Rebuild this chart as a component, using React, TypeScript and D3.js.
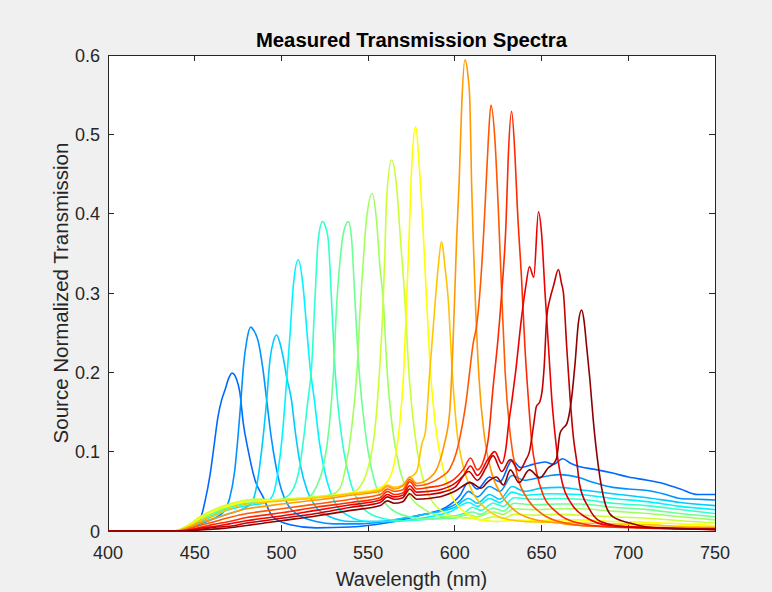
import React from 'react';
import * as d3 from 'd3';

type Pt = [number, number];

// ---- data: [wavelength nm, transmission] ----
const spectrum01: Pt[] = [[400,0],[440,0],[445,0.002],[449,0.006],[453,0.014],[456,0.038],[459,0.073],[461,0.105],[463.4,0.144],[465.5,0.165],[467.5,0.178],[469.5,0.192],[471.5,0.199],[474,0.192],[476,0.175],[478,0.136],[480.8,0.102],[484.8,0.064],[489.4,0.043],[495,0.018],[505,0.008],[520,0.004],[540,0.005],[560,0.01],[580,0.02],[595,0.03],[603,0.045],[608,0.062],[613,0.053],[620,0.068],[626,0.062],[633,0.089],[638,0.08],[645,0.084],[652,0.087],[657,0.084],[662,0.091],[667,0.085],[672,0.081],[680,0.078],[691,0.073],[700,0.068],[711,0.064],[720,0.06],[730,0.053],[740,0.046],[750,0.046]];
const spectrum02: Pt[] = [[400,0],[440,0],[446,0.003],[452,0.008],[458,0.013],[463,0.018],[467,0.025],[470,0.04],[473,0.075],[475,0.12],[476.5,0.16],[478,0.205],[480,0.24],[482.3,0.257],[484,0.253],[486.5,0.24],[489.4,0.203],[491.5,0.165],[494,0.12],[497,0.08],[500,0.052],[504,0.032],[510,0.02],[520,0.012],[530,0.009],[545,0.009],[560,0.012],[580,0.02],[595,0.028],[603,0.038],[608,0.05],[613,0.043],[620,0.056],[626,0.05],[633,0.07],[640,0.064],[650,0.068],[660,0.071],[672,0.067],[680,0.061],[691,0.055],[700,0.053],[711,0.051],[720,0.047],[730,0.041],[740,0.04],[750,0.039]];
const spectrum03: Pt[] = [[400,0],[440,0],[447,0.004],[454,0.01],[462,0.016],[470,0.022],[478,0.028],[483,0.036],[486,0.06],[488.5,0.1],[491.5,0.165],[493.4,0.216],[495.5,0.24],[497.2,0.247],[499,0.238],[501,0.219],[503,0.194],[505.8,0.165],[508,0.125],[511,0.082],[515,0.05],[520,0.03],[528,0.018],[540,0.012],[555,0.012],[570,0.016],[585,0.022],[600,0.03],[608,0.041],[613,0.035],[620,0.046],[626,0.04],[633,0.056],[640,0.05],[650,0.054],[660,0.055],[672,0.052],[691,0.047],[711,0.042],[730,0.036],[750,0.032]];
const spectrum04: Pt[] = [[400,0],[440,0],[447,0.005],[454,0.012],[462,0.02],[470,0.027],[480,0.032],[490,0.035],[495,0.045],[498,0.075],[500.5,0.12],[503,0.19],[505,0.249],[506.8,0.308],[509.7,0.342],[512.5,0.308],[514.5,0.257],[516.5,0.207],[519,0.165],[522,0.11],[526,0.065],[531,0.035],[538,0.02],[550,0.012],[565,0.012],[580,0.016],[598,0.025],[608,0.036],[613,0.031],[620,0.041],[626,0.036],[633,0.049],[640,0.045],[655,0.047],[672,0.046],[691,0.041],[711,0.037],[730,0.031],[750,0.027]];
const spectrum05: Pt[] = [[400,0],[440,0],[447,0.006],[454,0.014],[462,0.022],[470,0.03],[480,0.035],[490,0.037],[500,0.04],[506,0.05],[510,0.075],[513,0.12],[515,0.16],[517.4,0.207],[519.3,0.291],[521.2,0.367],[523.7,0.39],[525.5,0.383],[527,0.367],[528.9,0.291],[530.8,0.207],[533,0.15],[536,0.1],[540,0.06],[546,0.032],[555,0.018],[570,0.013],[590,0.016],[605,0.022],[610,0.03],[615,0.026],[622,0.035],[628,0.031],[634,0.042],[645,0.04],[660,0.041],[672,0.04],[691,0.035],[711,0.032],[730,0.027],[750,0.022]];
const spectrum06: Pt[] = [[400,0],[438,0],[446,0.006],[453,0.015],[460,0.022],[470,0.031],[480,0.037],[488,0.039],[495,0.038],[505,0.039],[515,0.042],[520,0.055],[524,0.08],[527.5,0.13],[530,0.2],[532,0.291],[533.8,0.341],[535.7,0.375],[538.6,0.39],[540.5,0.367],[542.4,0.291],[544.5,0.21],[547,0.15],[550,0.1],[554,0.06],[560,0.035],[570,0.02],[585,0.015],[600,0.016],[610,0.024],[615,0.021],[622,0.029],[628,0.025],[634,0.035],[645,0.033],[660,0.034],[672,0.034],[691,0.03],[711,0.027],[730,0.022],[750,0.018]];
const spectrum07: Pt[] = [[400,0],[438,0],[446,0.007],[453,0.017],[460,0.025],[470,0.033],[480,0.039],[488,0.04],[495,0.039],[505,0.04],[520,0.043],[530,0.047],[534,0.055],[537,0.08],[540.5,0.13],[543.5,0.2],[545.7,0.291],[547.2,0.341],[549,0.392],[552.4,0.4255],[554.8,0.392],[556.8,0.333],[558.7,0.291],[561,0.2],[564,0.13],[568,0.08],[574,0.045],[582,0.028],[595,0.018],[608,0.02],[613,0.018],[622,0.024],[628,0.021],[634,0.028],[645,0.027],[660,0.028],[672,0.028],[691,0.025],[711,0.022],[730,0.018],[750,0.014]];
const spectrum08: Pt[] = [[400,0],[438,0],[446,0.007],[453,0.018],[460,0.026],[470,0.034],[478,0.038],[485,0.04],[492,0.039],[500,0.04],[520,0.043],[540,0.048],[546,0.058],[550,0.08],[554,0.13],[556.5,0.2],[558.7,0.291],[559.7,0.354],[560.6,0.417],[563.5,0.4677],[566.4,0.434],[568.4,0.375],[571.2,0.291],[573.5,0.2],[576.5,0.13],[580,0.08],[585,0.045],[592,0.026],[602,0.017],[610,0.016],[615,0.014],[622,0.018],[628,0.016],[634,0.021],[645,0.02],[660,0.021],[672,0.02],[691,0.018],[711,0.016],[730,0.013],[750,0.01]];
const spectrum09: Pt[] = [[400,0],[438,0],[446,0.006],[453,0.016],[460,0.024],[470,0.032],[480,0.037],[490,0.038],[500,0.039],[520,0.042],[540,0.048],[555,0.053],[561,0.062],[565,0.085],[568,0.13],[570.5,0.2],[572.2,0.291],[573.7,0.375],[575.1,0.459],[577.4,0.5097],[579.5,0.459],[581.8,0.375],[583.7,0.291],[586,0.2],[589,0.13],[593,0.08],[598,0.045],[605,0.025],[615,0.014],[625,0.012],[634,0.014],[645,0.013],[660,0.014],[672,0.014],[691,0.012],[711,0.011],[730,0.009],[750,0.007]];
const spectrum10: Pt[] = [[400,0],[438,0],[446,0.005],[453,0.013],[460,0.019],[470,0.028],[480,0.034],[490,0.036],[500,0.038],[520,0.042],[540,0.047],[557,0.052],[561,0.058],[565,0.055],[570,0.058],[574,0.067],[578,0.075],[581,0.11],[583,0.125],[585.5,0.2],[588,0.27],[590.4,0.333],[592.3,0.3647],[594.3,0.333],[596.2,0.291],[598.5,0.2],[601,0.13],[605,0.08],[610,0.05],[618,0.028],[628,0.016],[640,0.012],[655,0.011],[672,0.01],[691,0.009],[711,0.008],[730,0.006],[750,0.005]];
const spectrum11: Pt[] = [[400,0],[438,0],[446,0.004],[453,0.01],[460,0.015],[470,0.022],[480,0.028],[490,0.031],[500,0.034],[520,0.039],[540,0.045],[557,0.05],[561,0.056],[565,0.053],[570,0.057],[574,0.068],[578,0.06],[585,0.066],[590,0.08],[594,0.11],[597,0.15],[599,0.24],[601,0.367],[602.5,0.442],[604,0.539],[605.8,0.594],[607.5,0.575],[608.7,0.539],[609.6,0.442],[610.6,0.367],[612,0.28],[614,0.19],[617,0.12],[621,0.075],[627,0.045],[635,0.025],[645,0.015],[660,0.01],[672,0.007],[691,0.006],[711,0.005],[750,0.004]];
const spectrum12: Pt[] = [[400,0],[440,0],[447,0.003],[453,0.007],[460,0.011],[470,0.017],[480,0.022],[490,0.025],[500,0.028],[520,0.034],[540,0.04],[557,0.046],[561,0.053],[565,0.05],[570,0.052],[574,0.065],[578,0.057],[585,0.06],[592,0.068],[597,0.078],[601,0.1],[604,0.13],[606.6,0.165],[608.5,0.2],[610.6,0.237],[612.5,0.258],[614.4,0.3],[616.4,0.367],[617.4,0.409],[619.3,0.493],[620.8,0.537],[623.1,0.493],[625,0.409],[627,0.3],[629,0.2],[632,0.12],[636,0.07],[642,0.04],[650,0.022],[660,0.012],[680,0.006],[750,0.003]];
const spectrum13: Pt[] = [[400,0],[441,0],[448,0.002],[454,0.005],[460,0.008],[470,0.012],[480,0.017],[490,0.02],[500,0.023],[520,0.03],[540,0.036],[557,0.042],[561,0.05],[565,0.046],[570,0.048],[574,0.062],[578,0.053],[585,0.055],[593,0.058],[600,0.066],[605,0.078],[609,0.092],[613,0.077],[617,0.092],[619.5,0.12],[622,0.18],[625,0.245],[627,0.3],[629.5,0.388],[630.8,0.472],[632.7,0.529],[634.7,0.472],[636,0.409],[638.5,0.316],[640.4,0.232],[642.3,0.169],[644.2,0.115],[647,0.075],[651,0.045],[658,0.025],[668,0.012],[690,0.005],[750,0.002]];
const spectrum14: Pt[] = [[400,0],[442,0],[449,0.002],[455,0.004],[462,0.006],[470,0.009],[480,0.013],[490,0.016],[500,0.019],[520,0.026],[540,0.033],[557,0.039],[561,0.046],[565,0.043],[570,0.045],[574,0.057],[578,0.049],[585,0.05],[593,0.053],[600,0.06],[605,0.07],[609,0.082],[613,0.07],[619,0.09],[623,0.1],[627,0.085],[629.5,0.105],[631,0.135],[632.7,0.161],[635,0.2],[638.5,0.27],[641,0.31],[643,0.333],[645.5,0.32],[648.2,0.4025],[650,0.375],[652,0.3],[654,0.232],[655.8,0.169],[657.7,0.123],[659.5,0.089],[662,0.06],[667,0.035],[675,0.018],[690,0.007],[750,0.002]];
const spectrum15: Pt[] = [[400,0],[443,0],[450,0.001],[456,0.003],[463,0.005],[470,0.006],[480,0.01],[490,0.013],[500,0.016],[520,0.022],[540,0.03],[557,0.036],[561,0.043],[565,0.04],[570,0.042],[574,0.053],[578,0.045],[585,0.046],[593,0.049],[600,0.055],[608,0.075],[613,0.064],[618,0.08],[622,0.095],[627,0.075],[632,0.09],[637,0.076],[641,0.09],[643,0.1],[645.5,0.135],[647,0.157],[649,0.163],[650.5,0.18],[651.5,0.207],[653,0.27],[654.9,0.293],[657,0.31],[659.7,0.3297],[661.5,0.312],[662.6,0.3],[664.5,0.232],[666.4,0.169],[668.3,0.119],[670.2,0.089],[672,0.058],[677,0.03],[684,0.012],[700,0.005],[750,0.002]];
const spectrum16: Pt[] = [[400,0],[444,0],[451,0.001],[458,0.002],[465,0.003],[470,0.004],[480,0.007],[490,0.01],[500,0.013],[520,0.019],[540,0.026],[557,0.032],[561,0.038],[565,0.035],[570,0.037],[574,0.047],[578,0.04],[585,0.041],[593,0.044],[600,0.05],[609,0.061],[615,0.054],[619,0.062],[624,0.068],[628,0.058],[632,0.077],[637,0.061],[643,0.077],[649,0.067],[654,0.08],[657,0.085],[658.7,0.092],[660.6,0.123],[662.5,0.13],[664.5,0.135],[667.4,0.169],[669.3,0.211],[671.2,0.262],[673.1,0.2786],[674.5,0.265],[676,0.232],[677.9,0.19],[679.8,0.14],[682.7,0.082],[686.6,0.035],[691,0.018],[701,0.01],[711,0.005],[730,0.003],[750,0.002]];

const spectra: Pt[][] = [spectrum01, spectrum02, spectrum03, spectrum04, spectrum05, spectrum06, spectrum07, spectrum08, spectrum09, spectrum10, spectrum11, spectrum12, spectrum13, spectrum14, spectrum15, spectrum16];

// jet-like colours, one per spectrum
const curveColors = ['#0069ff', '#0092ff', '#00cbff', '#00f4ff', '#32ffcd', '#6bff94', '#a0ff5f', '#caff35', '#ffff00', '#ffc500', '#ff9a00', '#ff5800', '#ff2a00', '#ee0000', '#c20000', '#8f0000'];

const xTicks = [400, 450, 500, 550, 600, 650, 700, 750];
const yTicks = [0, 0.1, 0.2, 0.3, 0.4, 0.5, 0.6];
const yTickLabels = ['0', '0.1', '0.2', '0.3', '0.4', '0.5', '0.6'];

const titleText = 'Measured Transmission Spectra';
const xLabelText = 'Wavelength (nm)';
const yLabelText = 'Source Normalized Transmission';

const W = 772;
const H = 592;
const left = 108;
const right = 715;
const top = 55;
const bottom = 531;
const FONT = '"Liberation Sans", Arial, Helvetica, sans-serif';
const AX = '#262626';

export default function App() {
  const x = d3.scaleLinear().domain([400, 750]).range([left, right]);
  const y = d3.scaleLinear().domain([0, 0.6]).range([bottom, top]);
  const line = d3
    .line<Pt>()
    .x((d) => x(d[0]))
    .y((d) => y(d[1]))
    .curve(d3.curveMonotoneX);
  const tick = 6;

  return (
    <svg
      width={W}
      height={H}
      viewBox={`0 0 ${W} ${H}`}
      style={{ position: 'absolute', left: 0, top: 0, display: 'block' }}
    >
      <rect x={0} y={0} width={W} height={H} fill="#f0f0f0" />
      <rect x={left} y={top} width={right - left} height={bottom - top} fill="#ffffff" />
      <defs>
        <clipPath id="plotclip">
          <rect x={left} y={top - 1} width={right - left} height={bottom - top + 2} />
        </clipPath>
      </defs>

      {/* axes box and ticks */}
      <g stroke={AX} strokeWidth={1} fill="none" shapeRendering="crispEdges">
        <rect x={left} y={top} width={right - left} height={bottom - top} />
        {xTicks.map((t) => (
          <g key={'xt' + t}>
            <line x1={x(t)} x2={x(t)} y1={bottom} y2={bottom - tick} />
            <line x1={x(t)} x2={x(t)} y1={top} y2={top + tick} />
          </g>
        ))}
        {yTicks.map((t) => (
          <g key={'yt' + t}>
            <line x1={left} x2={left + tick} y1={y(t)} y2={y(t)} />
            <line x1={right} x2={right - tick} y1={y(t)} y2={y(t)} />
          </g>
        ))}
      </g>

      {/* spectra */}
      <g clipPath="url(#plotclip)" fill="none" strokeWidth={1.6} strokeLinejoin="round">
        {spectra.map((s, i) => (
          <path key={'s' + i} d={line(s) || ''} stroke={curveColors[i]} />
        ))}
      </g>

      {/* tick labels */}
      <g fontFamily={FONT} fontSize={18} fill={AX}>
        {xTicks.map((t) => (
          <text key={'xl' + t} x={x(t)} y={559} textAnchor="middle">
            {t}
          </text>
        ))}
        {yTicks.map((t, i) => (
          <text key={'yl' + t} x={left - 8} y={y(t) + 6.5} textAnchor="end">
            {yTickLabels[i]}
          </text>
        ))}
      </g>

      {/* labels */}
      <text x={(left + right) / 2} y={586} textAnchor="middle" fontFamily={FONT} fontSize={20} fill={AX}>
        {xLabelText}
      </text>
      <text
        transform={`translate(68, ${(top + bottom) / 2}) rotate(-90)`}
        textAnchor="middle"
        fontFamily={FONT}
        fontSize={20.5}
        fill={AX}
      >
        {yLabelText}
      </text>
      <text x={(left + right) / 2} y={47} textAnchor="middle" fontFamily={FONT} fontSize={20.3} fontWeight="bold" fill="#000">
        {titleText}
      </text>
    </svg>
  );
}
